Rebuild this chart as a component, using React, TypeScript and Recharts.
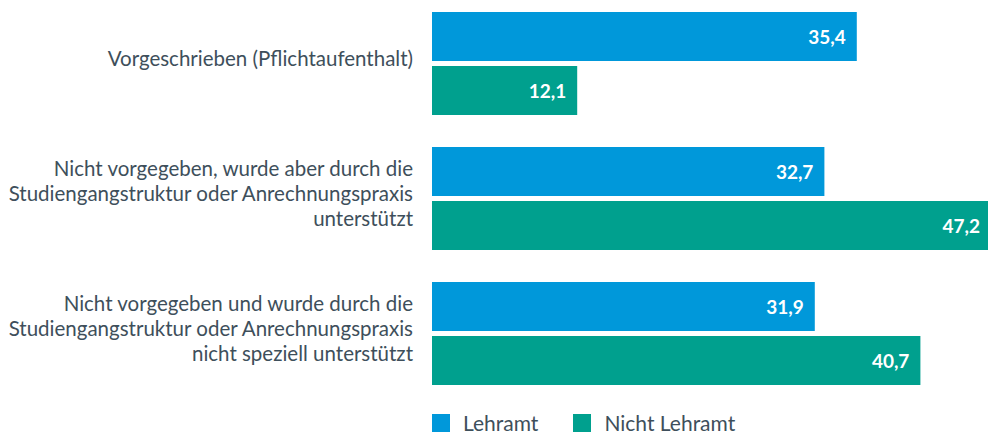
import React from "react";
import { BarChart, Bar, XAxis, YAxis, Legend, LabelList } from "recharts";

const categories = [
  "Vorgeschrieben (Pflichtaufenthalt)",
  "Nicht vorgegeben, wurde aber durch die\nStudiengangstruktur oder Anrechnungspraxis\nunterstützt",
  "Nicht vorgegeben und wurde durch die\nStudiengangstruktur oder Anrechnungspraxis\nnicht speziell unterstützt",
];
const lehramt = [35.4, 32.7, 31.9];
const nichtLehramt = [12.1, 47.2, 40.7];
const seriesNames = ["Lehramt", "Nicht Lehramt"];

const BLUE = "#0098da";
const GREEN = "#00a08e";
const TEXT = "#3e4f5b";
const FONT = "Lato, 'Noto Sans', sans-serif";

const data = categories.map((c, i) => ({
  name: c,
  lehramt: lehramt[i],
  nicht: nichtLehramt[i],
}));

const fmt = (v: number) => v.toFixed(1).replace(".", ",");

const CategoryTick = (props: any) => {
  const { x, y, payload } = props;
  const lines: string[] = String(payload.value).split("\n");
  const n = lines.length;
  return (
    <g>
      {lines.map((l, i) => (
        <text
          key={i}
          x={x}
          y={y + 2 + (i - (n - 1) / 2) * 25}
          textAnchor="end"
          fill={TEXT}
          fontFamily={FONT}
          fontSize={20.5}
        >
          {l}
        </text>
      ))}
    </g>
  );
};

const ValueLabel = (props: any) => {
  const { x, y, width, height, value } = props;
  const lx = Math.min(x + width - 11, 980);
  return (
    <text
      x={lx}
      y={y + height / 2}
      textAnchor="end"
      dominantBaseline="central"
      fill="#ffffff"
      fontFamily={FONT}
      fontWeight="bold"
      fontSize={19}
    >
      {fmt(value)}
    </text>
  );
};

const LegendContent = () => (
  <div style={{ display: "flex", alignItems: "center", fontFamily: FONT, fontSize: 21, color: TEXT, lineHeight: "20px", height: 20 }}>
    {[BLUE, GREEN].map((c, i) => (
      <div key={i} style={{ display: "flex", alignItems: "center", marginRight: 35 }}>
        <div style={{ width: 18, height: 18, background: c, marginRight: 13 }} />
        <span>{seriesNames[i]}</span>
      </div>
    ))}
  </div>
);

export default function App() {
  return (
    <div style={{ position: "absolute", left: 0, top: 0, width: 988, height: 433, overflow: "hidden", background: "#fff" }}>
      <div style={{ position: "absolute", left: 0, top: -4 }}>
        <BarChart
          layout="vertical"
          width={1040}
          height={441}
          data={data}
          margin={{ top: 0, right: 8, left: 0, bottom: 16 }}
          barSize={49}
          barGap={5}
        >
          <XAxis type="number" domain={[0, 50]} hide />
          <YAxis
            type="category"
            dataKey="name"
            width={432}
            axisLine={false}
            tickLine={false}
            tickSize={0}
            tickMargin={19}
            tick={<CategoryTick />}
            interval={0}
          />
          <Legend
            content={<LegendContent />}
            wrapperStyle={{ position: "absolute", left: 432, top: 417, width: 500, height: 20 }}
          />
          <Bar dataKey="lehramt" name={seriesNames[0]} fill={BLUE} isAnimationActive={false}>
            <LabelList dataKey="lehramt" content={<ValueLabel />} />
          </Bar>
          <Bar dataKey="nicht" name={seriesNames[1]} fill={GREEN} isAnimationActive={false}>
            <LabelList dataKey="nicht" content={<ValueLabel />} />
          </Bar>
        </BarChart>
      </div>
    </div>
  );
}
